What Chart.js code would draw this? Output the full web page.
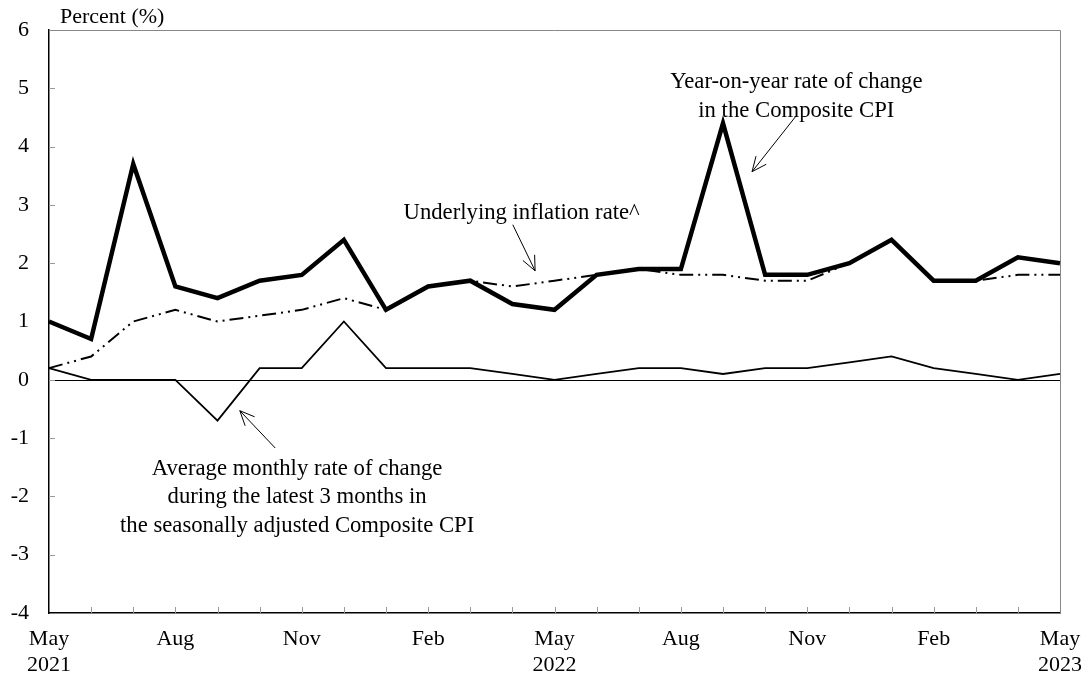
<!DOCTYPE html>
<html><head><meta charset="utf-8">
<script src="https://cdn.jsdelivr.net/npm/chart.js@4.4.1/dist/chart.umd.min.js"></script>
<style>html,body{margin:0;padding:0;background:#fff}#wrap{width:1086px;height:678px}</style>
</head><body><div id="wrap"><canvas id="c" width="1086" height="678"></canvas></div>
<script>
const months = ['May 2021','Jun 2021','Jul 2021','Aug 2021','Sep 2021','Oct 2021','Nov 2021','Dec 2021',
 'Jan 2022','Feb 2022','Mar 2022','Apr 2022','May 2022','Jun 2022','Jul 2022','Aug 2022','Sep 2022','Oct 2022',
 'Nov 2022','Dec 2022','Jan 2023','Feb 2023','Mar 2023','Apr 2023','May 2023'];
const tickLabels = [['May','2021'],'','',['Aug'],'','',['Nov'],'','',['Feb'],'','',['May','2022'],'','',['Aug'],'','',['Nov'],'','',['Feb'],'','',['May','2023']];
const yoyCPI =     [1.0,0.7,3.7,1.6,1.4,1.7,1.8,2.4,1.2,1.6,1.7,1.3,1.2,1.8,1.9,1.9,4.4,1.8,1.8,2.0,2.4,1.7,1.7,2.1,2.0];
const underlying = [0.2,0.4,1.0,1.2,1.0,1.1,1.2,1.4,1.2,1.6,1.7,1.6,1.7,1.8,1.9,1.8,1.8,1.7,1.7,2.0,2.4,1.7,1.7,1.8,1.8];
const avg3m =      [0.2,0.0,0.0,0.0,-0.7,0.2,0.2,1.0,0.2,0.2,0.2,0.1,0.0,0.1,0.2,0.2,0.1,0.2,0.2,0.3,0.4,0.2,0.1,0.0,0.1];
const yTicks = [-4,-3,-2,-1,0,1,2,3,4,5,6];

const FONT = '"Liberation Serif", "Times New Roman", serif';

const annotations = [
  {lines:['Year-on-year rate of change','in the Composite CPI'], x:17.74, y:5.0, arrow:[17.74,4.53,16.69,3.57]},
  {lines:['Underlying inflation rate^'], x:11.22, y:2.75, arrow:[11.01,2.66,11.54,1.87]},
  {lines:['Average monthly rate of change','during the latest 3 months in','the seasonally adjusted Composite CPI'], x:5.89, y:-1.63, arrow:[5.37,-1.17,4.53,-0.53]}
];

function arrowHead(ctx, x1,y1,x2,y2){
  const a = Math.atan2(y2-y1,x2-x1), L=16, w=0.42;
  ctx.beginPath();
  ctx.moveTo(x2 - L*Math.cos(a-w), y2 - L*Math.sin(a-w));
  ctx.lineTo(x2,y2);
  ctx.lineTo(x2 - L*Math.cos(a+w), y2 - L*Math.sin(a+w));
  ctx.stroke();
}

const deco = {
  id:'deco',
  beforeDatasetsDraw(chart){
    const {ctx, chartArea:ca, scales:{x,y}} = chart;
    ctx.save();
    ctx.strokeStyle='#000'; ctx.lineWidth=1;
    const y0 = Math.round(y.getPixelForValue(0))+0.5;
    ctx.beginPath(); ctx.moveTo(ca.left,y0); ctx.lineTo(ca.right,y0); ctx.stroke();
    ctx.strokeStyle='#888';
    ctx.beginPath(); ctx.moveTo(ca.left,ca.top+0.5); ctx.lineTo(ca.right+0.5,ca.top+0.5); ctx.lineTo(ca.right+0.5,ca.bottom); ctx.stroke();
    ctx.strokeStyle='#999';
    yTicks.forEach(v=>{ if(v===-4||v===6) return; const p=Math.round(y.getPixelForValue(v))+0.5; ctx.beginPath(); ctx.moveTo(ca.left,p); ctx.lineTo(ca.left+6,p); ctx.stroke(); });
    months.forEach((m,i)=>{ if(i===0||i===months.length-1) return; const p=Math.round(x.getPixelForValue(i))+0.5; ctx.beginPath(); ctx.moveTo(p,ca.bottom); ctx.lineTo(p,ca.bottom-6); ctx.stroke(); });
    ctx.restore();
  },
  afterDatasetsDraw(chart){
    const {ctx, chartArea:ca, scales:{x,y}} = chart;
    ctx.save();
    ctx.fillStyle='#000'; ctx.textBaseline='alphabetic';
    ctx.font='22px '+FONT;
    ctx.textAlign='left';
    ctx.fillText('Percent (%)', 60, 23);
    ctx.font='22.7px '+FONT;
    ctx.textAlign='center';
    annotations.forEach(a=>{
      const cx=x.getPixelForValue(a.x), cy=y.getPixelForValue(a.y);
      a.lines.forEach((t,i)=>ctx.fillText(t,cx,cy+i*28.5));
      const [ax1,ay1,ax2,ay2]=a.arrow;
      const x1=x.getPixelForValue(ax1), y1=y.getPixelForValue(ay1), x2=x.getPixelForValue(ax2), y2=y.getPixelForValue(ay2);
      ctx.strokeStyle='#000'; ctx.lineWidth=1;
      ctx.beginPath(); ctx.moveTo(x1,y1); ctx.lineTo(x2,y2); ctx.stroke();
      arrowHead(ctx,x1,y1,x2,y2);
    });
    ctx.restore();
  }
};

new Chart(document.getElementById('c'), {
  type:'line',
  data:{
    labels: months,
    datasets:[
      {label:'Average monthly rate of change (3 months, s.a.)', data:avg3m, borderColor:'#000', borderWidth:1.8, pointRadius:0, tension:0},
      {label:'Underlying inflation rate', data:underlying, borderColor:'#000', borderWidth:2, borderDash:[14,5,2,5,2,5], pointRadius:0, tension:0},
      {label:'Year-on-year rate of change in the Composite CPI', data:yoyCPI, borderColor:'#000', borderWidth:4.5, pointRadius:0, tension:0, borderJoinStyle:'miter'}
    ]
  },
  options:{
    responsive:false, animation:false,
    layout:{padding:{left:0,right:26,top:30,bottom:0}},
    plugins:{legend:{display:false}, tooltip:{enabled:false}},
    scales:{
      x:{
        offset:false,
        grid:{display:false, drawTicks:false},
        border:{display:true,color:'#000',width:1.5},
        ticks:{autoSkip:false, maxRotation:0, padding:14, color:'#000', font:{family:FONT,size:22,lineHeight:1.15},
          callback:(v,i)=>tickLabels[i]},
        afterFit(s){ s.height=65; s.paddingLeft=0; s.paddingRight=0; }
      },
      y:{
        min:-4,max:6,
        grid:{display:false, drawTicks:false},
        border:{display:true,color:'#000',width:1.5},
        ticks:{stepSize:1, padding:20, color:'#000', font:{family:FONT,size:22}},
        afterFit(s){ s.width=49; s.paddingTop=0; s.paddingBottom=0; }
      }
    }
  },
  plugins:[deco]
});
</script></body></html>
